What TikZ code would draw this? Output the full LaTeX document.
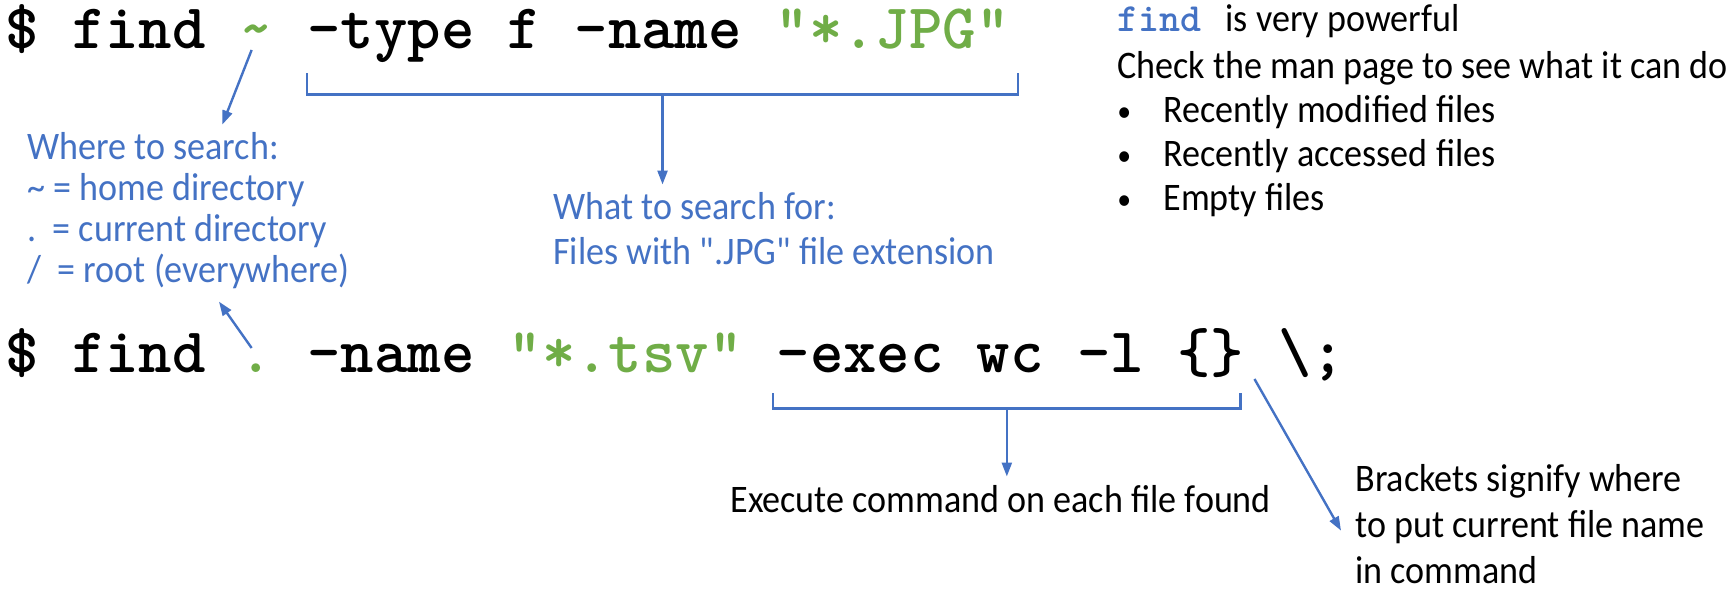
\documentclass[tikz,border=0pt]{standalone}
\usepackage{fontspec}
\setmainfont{Carlito}[FakeStretch=0.925, Ligatures=TeXOff]
\usetikzlibrary{arrows.meta, positioning, calc}
\definecolor{cBlue} {HTML}{4472C4}
\definecolor{cGreen}{HTML}{70AD47}
\newlength{\chw}
\setlength{\chw}{16.7pt}
\newcommand{\cmdsize}{\fontsize{31.8}{36}\selectfont}
\newcommand{\notesize}{\fontsize{19.5}{22.5}\selectfont}
\newcommand{\bul}{\makebox[23pt][l]{\raisebox{0.5pt}{\fontsize{15}{15}\selectfont\textbullet}}}
\tikzset{
  cmd/.style={font=\cmdsize\ttfamily\bfseries, inner sep=0pt,
              text height=19.5pt, text depth=6.5pt},
  hl/.style={cmd, text=cGreen},
  note/.style={font=\notesize, align=left, inner sep=4pt, anchor=base west},
  bluenote/.style={note, text=cBlue},
  arr/.style={-{Triangle[length=7pt,width=5pt]}, draw=cBlue, line width=1.2pt},
  brk/.style={draw=cBlue, line width=1.2pt},
}

\begin{document}
\begin{tikzpicture}[x=0.5pt, y=-0.5pt]
\useasboundingbox (0,0) rectangle (1734,598);

% ── Y levels (baselines; notes sit on their last line) ────────────────────────
\def\yone{49}
\def\ytwo{372}

% ── Command 1 ─────────────────────────────────────────────────────────────────
\node[cmd, anchor=base west] (find1) at (5, \yone) {\$ find};
\node[hl,  base right=\chw of find1] (tilde) {\textasciitilde};
\node[cmd, base right=\chw of tilde] (typef) {-type f -name};
\node[hl,  base right=\chw of typef] (jpg)   {"*.JPG"};

% ── Command 2 ─────────────────────────────────────────────────────────────────
\node[cmd, anchor=base west] (find2) at (5, \ytwo) {\$ find};
\node[hl,  base right=\chw of find2] (dot)  {.};
\node[cmd, base right=\chw of dot]   (name) {-name};
\node[hl,  base right=\chw of name]  (tsv)  {"*.tsv"};
\node[cmd, base right=\chw of tsv]   (exec) {-exec wc -l \{\}};
\node[cmd, base right=\chw of exec]  (semi) {\textbackslash;};

% ── Notes ─────────────────────────────────────────────────────────────────────
\node[bluenote, font=\fontsize{19.5}{20.5}\selectfont] (srch) at (19, 283)
  {Where to search:\\\textasciitilde\ = home directory\\.\ \ = current directory\\/\ \ = root (everywhere)};

\node[bluenote] (what) at (545, 265)
  {What to search for:\\Files with ".JPG" file extension};

\node[note, font=\fontsize{19.5}{22}\selectfont] (power) at (1109, 211)
  {{\fontsize{20}{22}\selectfont\ttfamily\bfseries\color{cBlue}find}\hspace{8pt} is very powerful\\[1.5pt]
   Check the man page to see what it can do\\
   \bul Recently modified files\\
   \bul Recently accessed files\\
   \bul Empty files};

\node[note] (execnote) at (722, 512)
  {Execute command on each file found};

\node[note, font=\fontsize{19.5}{23}\selectfont] (brknote) at (1347, 583)
  {Brackets signify where\\to put current file name\\in command};

% ── Brackets ──────────────────────────────────────────────────────────────────
\coordinate (b1t) at ([yshift=-5.5pt]typef.south west);
\coordinate (b1l) at ([yshift=-16pt]typef.south west);
\coordinate (b1r) at ([xshift=4pt,yshift=-16pt]jpg.south east);
\draw[brk] (b1t) -- (b1l) -- (b1r) -- (b1r |- b1t);

\coordinate (b2t) at ([xshift=-1.5pt,yshift=-4pt]exec.south west);
\coordinate (b2l) at ([xshift=-1.5pt,yshift=-11.5pt]exec.south west);
\coordinate (b2r) at ([xshift=-2pt,yshift=-11.5pt]exec.south east);
\draw[brk] (b2t) -- (b2l) -- (b2r) -- (b2r |- b2t);

% ── Arrows ────────────────────────────────────────────────────────────────────
\coordinate (b1m) at ($(b1l)!0.5!(b1r)$);
\coordinate (b2m) at ($(b2l)!0.5!(b2r)$);
\draw[arr] (b1m) -- (b1m |- what.north);
\draw[arr] (b2m) -- (b2m |- execnote.north);

\draw[arr] ([xshift=-2.5pt,yshift=-0.5pt]tilde.base) -- ($(srch.north west)!0.6!(srch.north east)$);
\draw[arr] ([xshift=-2.5pt,yshift=5.5pt]dot.center) -- ([yshift=-2pt]$(srch.south west)!0.59!(srch.south east)$);
\draw[arr] ([xshift=5pt,yshift=-3.5pt]exec.base east) -- ([xshift=-3pt,yshift=-3.5pt]brknote.west);

\end{tikzpicture}
\end{document}
